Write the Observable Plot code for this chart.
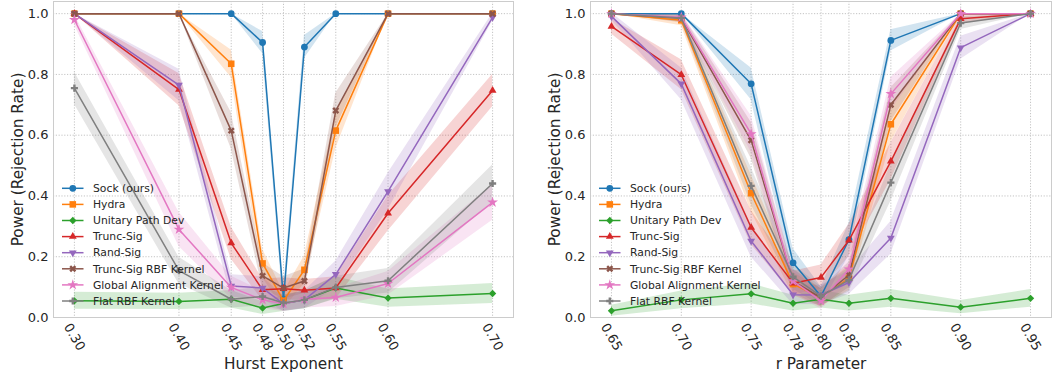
<!DOCTYPE html>
<html><head><meta charset="utf-8">
<script src="https://cdn.jsdelivr.net/npm/d3@7"></script>
<script src="https://cdn.jsdelivr.net/npm/@observablehq/plot@0.6"></script>
<style>
body{margin:0;background:#fff;width:1052px;height:377px;overflow:hidden;position:relative;font-family:"DejaVu Sans",sans-serif}
#left,#right{position:absolute;top:0}
#left{left:0}#right{left:526px}
</style></head><body><div id="left"></div><div id="right"></div>
<script>
const seriesNames = ["Sock (ours)","Hydra","Unitary Path Dev","Trunc-Sig","Rand-Sig","Trunc-Sig RBF Kernel","Global Alignment Kernel","Flat RBF Kernel"];
const seriesColors = ["#1f77b4","#ff7f0e","#2ca02c","#d62728","#9467bd","#8c564b","#e377c2","#7f7f7f"];
const yTicks = [0, 0.2, 0.4, 0.6, 0.8, 1.0];
const yTickLabels = ["0.0","0.2","0.4","0.6","0.8","1.0"];
const yLabel = "Power (Rejection Rate)";

// Left panel: Hurst exponent
const hurstX = [0.30,0.40,0.45,0.48,0.50,0.52,0.55,0.60,0.70];
const hurstTickLabels = ["0.30","0.40","0.45","0.48","0.50","0.52","0.55","0.60","0.70"];
const hurstLabel = "Hurst Exponent";
const sockHurst     = [1.0,1.0,1.0,0.905,0.06,0.89,1.0,1.0,1.0];
const hydraHurst    = [1.0,1.0,0.835,0.178,0.055,0.157,0.615,1.0,1.0];
const unitaryHurst  = [0.055,0.053,0.06,0.031,0.046,0.058,0.097,0.064,0.079];
const truncSigHurst = [1.0,0.75,0.245,0.091,0.095,0.09,0.097,0.343,0.747];
const randSigHurst  = [1.0,0.765,0.104,0.097,0.045,0.058,0.142,0.415,0.988];
const truncRbfHurst = [1.0,1.0,0.615,0.137,0.097,0.12,0.681,1.0,1.0];
const gakHurst      = [0.98,0.29,0.099,0.058,0.045,0.06,0.066,0.112,0.379];
const flatRbfHurst  = [0.755,0.154,0.06,0.069,0.048,0.058,0.099,0.121,0.441];
// band half-widths
const sockHurstErr     = [0,0,0,0.036,0.029,0.038,0,0,0];
const hydraHurstErr    = [0,0,0.045,0.047,0.028,0.045,0.060,0,0];
const unitaryHurstErr  = [0.028,0.027,0.029,0.021,0.026,0.029,0.037,0.030,0.033];
const truncSigHurstErr = [0,0.053,0.053,0.035,0.036,0.035,0.037,0.058,0.053];
const randSigHurstErr  = [0,0.052,0.037,0.037,0.025,0.029,0.043,0.060,0.013];
const truncRbfHurstErr = [0,0,0.060,0.042,0.037,0.040,0.057,0,0];
const gakHurstErr      = [0.017,0.056,0.037,0.029,0.025,0.029,0.030,0.039,0.059];
const flatRbfHurstErr  = [0.053,0.044,0.029,0.031,0.026,0.029,0.037,0.040,0.061];

// Right panel: r parameter
const rX = [0.65,0.70,0.75,0.78,0.80,0.82,0.85,0.90,0.95];
const rTickLabels = ["0.65","0.70","0.75","0.78","0.80","0.82","0.85","0.90","0.95"];
const rLabel = "r Parameter";
const sockR     = [1.0,1.0,0.769,0.18,0.07,0.256,0.912,1.0,1.0];
const hydraR    = [1.0,0.978,0.409,0.11,0.065,0.13,0.636,1.0,1.0];
const unitaryR  = [0.022,0.058,0.078,0.047,0.06,0.047,0.063,0.034,0.063];
const truncSigR = [0.958,0.799,0.296,0.113,0.132,0.254,0.514,0.983,1.0];
const randSigR  = [0.991,0.769,0.252,0.075,0.074,0.115,0.262,0.888,1.0];
const truncRbfR = [1.0,0.985,0.583,0.12,0.065,0.14,0.70,1.0,1.0];
const gakR      = [1.0,0.988,0.604,0.12,0.055,0.159,0.736,1.0,1.0];
const flatRbfR  = [1.0,0.986,0.433,0.134,0.07,0.124,0.444,0.969,1.0];
const sockRErr     = [0,0,0.052,0.047,0.031,0.053,0.035,0,0];
const hydraRErr    = [0,0.018,0.060,0.038,0.030,0.041,0.059,0,0];
const unitaryRErr  = [0.018,0.029,0.033,0.026,0.029,0.026,0.029,0.022,0.029];
const truncSigRErr = [0.025,0.049,0.056,0.039,0.041,0.053,0.061,0.016,0];
const randSigRErr  = [0.012,0.052,0.053,0.032,0.032,0.039,0.054,0.038,0];
const truncRbfRErr = [0,0.015,0.060,0.040,0.030,0.042,0.056,0,0];
const gakRErr      = [0,0.013,0.060,0.040,0.028,0.045,0.054,0,0];
const flatRbfRErr  = [0,0.014,0.061,0.041,0.031,0.040,0.061,0.021,0];

// marker symbols (matplotlib-like)
const S3 = Math.sqrt(3);
const triDown = {draw(ctx, size){ const y = Math.sqrt(size/(S3*3)); ctx.moveTo(0,2*y); ctx.lineTo(-S3*y,-y); ctx.lineTo(S3*y,-y); ctx.closePath(); }};
const triUp = {draw(ctx, size){ const y = -Math.sqrt(size/(S3*3)); ctx.moveTo(0,2*y); ctx.lineTo(-S3*y,-y); ctx.lineTo(S3*y,-y); ctx.closePath(); }};
function crossPts(r){ return [[-3*r,-r],[-r,-r],[-r,-3*r],[r,-3*r],[r,-r],[3*r,-r],[3*r,r],[r,r],[r,3*r],[-r,3*r],[-r,r],[-3*r,r]]; }
const plusFilled = {draw(ctx,size){ const r=Math.sqrt(size/5)/2; crossPts(r).forEach(([x,y],i)=> i?ctx.lineTo(x,y):ctx.moveTo(x,y)); ctx.closePath(); }};
const xFilled = {draw(ctx,size){ const r=Math.sqrt(size/5)/2, c=Math.SQRT1_2; crossPts(r).forEach(([x,y],i)=>{ const X=(x-y)*c, Y=(x+y)*c; i?ctx.lineTo(X,Y):ctx.moveTo(X,Y); }); ctx.closePath(); }};
const seriesSymbols = [d3.symbolCircle, d3.symbolSquare, d3.symbolDiamond2, triUp, triDown, xFilled, d3.symbolStar, plusFilled];
const seriesR = [3.4, 3.7, 3.3, 2.9, 2.9, 3.1, 3.4, 3.0];

const TEXT = "#262626";
const GRID = {stroke:"#b5b5b5", strokeOpacity:1, strokeWidth:0.8, strokeDasharray:"1.2,1.6"};

function panel(xVals, tickLabels, vals, errs, xDomain, xLabel, ml, mr) {
  const marks = [
    Plot.gridY(yTicks, GRID),
    Plot.gridX(xVals, GRID)
  ];
  const perSeries = vals.map((v,i)=> v.map((y,j)=>({x:xVals[j], y, lo:y-errs[i][j], hi:y+errs[i][j]})));
  perSeries.forEach((d,i)=> marks.push(Plot.areaY(d,{x:"x", y1:"lo", y2:"hi", fill:seriesColors[i], fillOpacity:0.2, clip:true})));
  perSeries.forEach((d,i)=>{
    marks.push(Plot.line(d,{x:"x", y:"y", stroke:seriesColors[i], strokeWidth:1.5}));
    marks.push(Plot.dot(d,{x:"x", y:"y", symbol:seriesSymbols[i], r:seriesR[i], fill:seriesColors[i], stroke:"none"}));
  });
  marks.push(Plot.frame({stroke:"#cccccc"}));
  marks.push(Plot.text(xVals,{x:d=>d, text:(d,j)=>tickLabels[j], frameAnchor:"bottom", dy:19.5, rotate:60, textAnchor:"middle", lineAnchor:"middle", fontSize:13, fill:TEXT}));
  marks.push(Plot.text(yTicks,{y:d=>d, text:(d,j)=>yTickLabels[j], frameAnchor:"left", dx:-5, textAnchor:"end", lineAnchor:"middle", fontSize:13, fill:TEXT}));
  marks.push(Plot.text([xLabel],{text:d=>d, frameAnchor:"bottom", dy:46.5, textAnchor:"middle", lineAnchor:"middle", fontSize:15.3, fill:TEXT}));
  marks.push(Plot.text([yLabel],{text:d=>d, frameAnchor:"left", dx:-35.5, rotate:-90, textAnchor:"middle", lineAnchor:"middle", fontSize:15.3, fill:TEXT}));
  const svg = Plot.plot({
    width:526, height:377, marginTop:1, marginBottom:60, marginLeft:ml, marginRight:mr,
    x:{domain:xDomain, axis:null}, y:{domain:[0,1.04], axis:null},
    style:{fontFamily:"DejaVu Sans", background:"#fff", overflow:"visible"},
    marks
  });
  // legend (lower left inside axes)
  const g = d3.select(svg).append("g").attr("font-family","DejaVu Sans").attr("font-size","10.8px").attr("text-anchor","start");
  seriesNames.forEach((name,i)=>{
    const y = 188.3 + i*16.1;
    g.append("line").attr("x1", ml+9).attr("x2", ml+30.5).attr("y1", y).attr("y2", y).attr("stroke", seriesColors[i]).attr("stroke-width",1.5);
    g.append("path").attr("d", d3.symbol(seriesSymbols[i], Math.PI*seriesR[i]*seriesR[i])()).attr("transform",`translate(${ml+19.8},${y})`).attr("fill", seriesColors[i]);
    g.append("text").attr("x", ml+40).attr("y", y).attr("dy","0.35em").attr("fill", TEXT).attr("text-anchor","start").text(name);
  });
  return svg;
}

document.getElementById("left").append(panel(hurstX, hurstTickLabels,
  [sockHurst,hydraHurst,unitaryHurst,truncSigHurst,randSigHurst,truncRbfHurst,gakHurst,flatRbfHurst],
  [sockHurstErr,hydraHurstErr,unitaryHurstErr,truncSigHurstErr,randSigHurstErr,truncRbfHurstErr,gakHurstErr,flatRbfHurstErr],
  [0.28,0.72], hurstLabel, 53, 13));
document.getElementById("right").append(panel(rX, rTickLabels,
  [sockR,hydraR,unitaryR,truncSigR,randSigR,truncRbfR,gakR,flatRbfR],
  [sockRErr,hydraRErr,unitaryRErr,truncSigRErr,randSigRErr,truncRbfRErr,gakRErr,flatRbfRErr],
  [0.635,0.965], rLabel, 64, 1));
</script></body></html>
